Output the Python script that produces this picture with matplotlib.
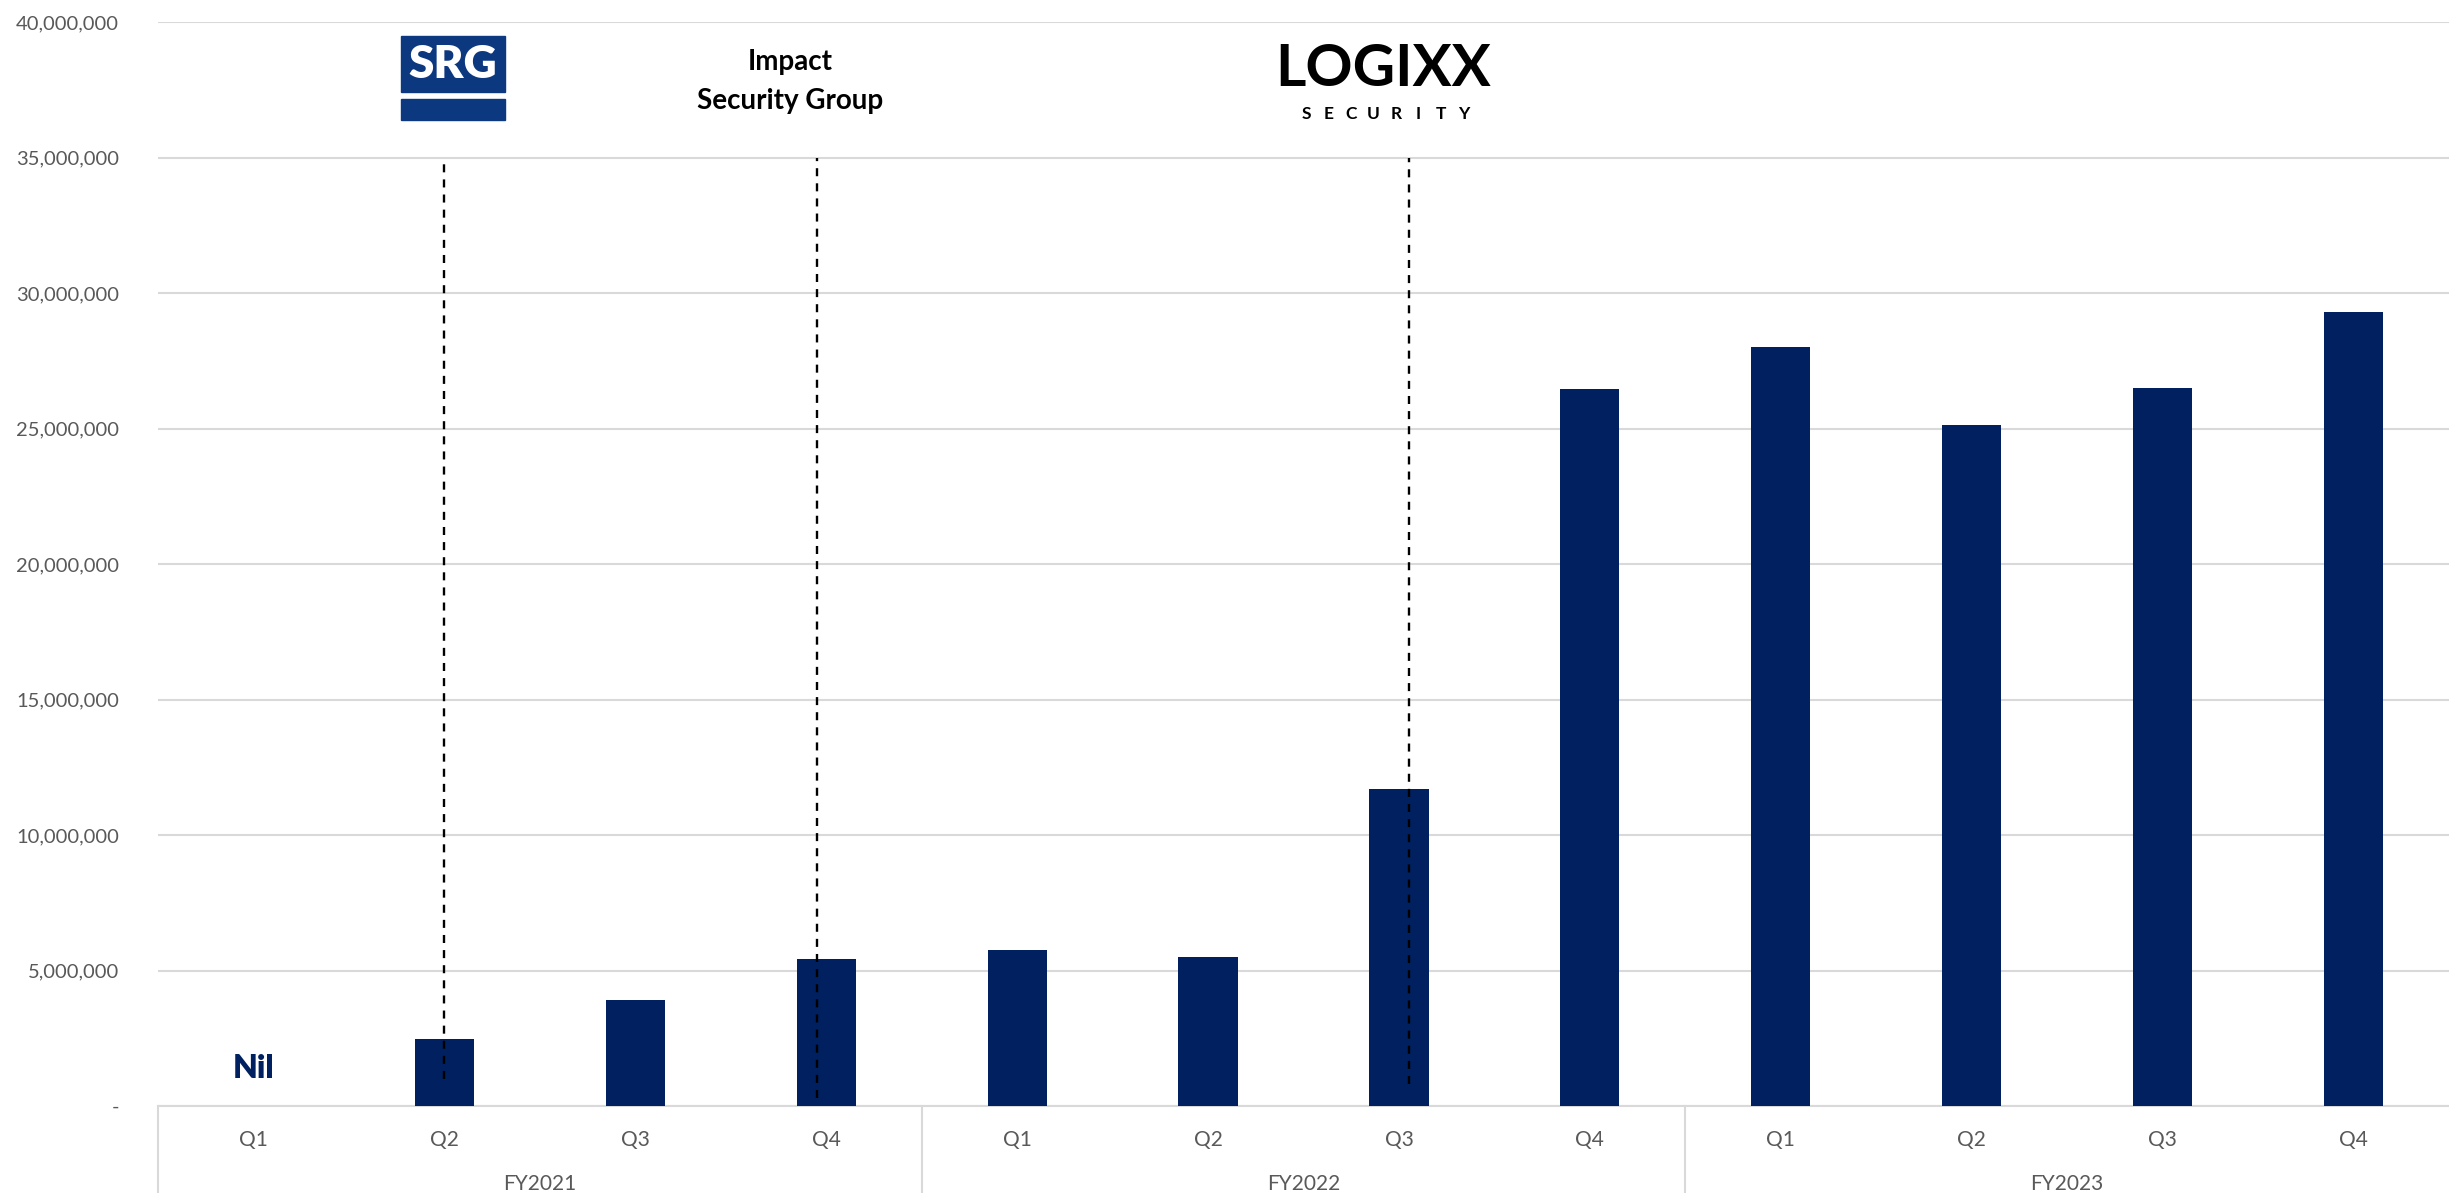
import matplotlib.pyplot as plt
from matplotlib.patches import Rectangle
from matplotlib.ticker import FuncFormatter
import numpy as np

plt.rcParams['font.family'] = ['Lato', 'DejaVu Sans']

years = ['FY2021', 'FY2022', 'FY2023']
quarters = ['Q1', 'Q2', 'Q3', 'Q4']
revenue = [0, 2480000, 3920000, 5420000,
           5760000, 5480000, 11700000, 26460000,
           28010000, 25130000, 26510000, 29290000]
# acquisition markers: (x position in category units, bottom of dashed line)
acq_x = [1, 2.95, 6.05]
acq_bottom = [1000000, 300000, 800000]

navy = '#002060'
grey = '#595959'

fig = plt.figure(figsize=(24.49, 11.93), dpi=100)
W, H = 2449, 1193
ax = fig.add_axes([158 / W, 1 - 1106 / H, 1 - 158 / W, (1106 - 22) / H])

x = np.arange(len(revenue))
ax.bar(x, revenue, width=0.31, color=navy, zorder=3)

for xi, yb in zip(acq_x, acq_bottom):
    ax.plot([xi, xi], [yb, 35000000], color='black', lw=1.7,
            dashes=(3.4, 3.0), zorder=4)

ax.text(0, 1400000, 'Nil', color=navy, fontsize=23, fontweight='heavy',
        ha='center', va='center')

ax.set_xlim(-0.5, len(revenue) - 0.5)
ax.set_ylim(0, 40000000)
ax.set_yticks(np.arange(0, 40000001, 5000000))
ax.yaxis.set_major_formatter(FuncFormatter(lambda v, p: '-' if v == 0 else f'{int(v):,}'))
ax.grid(axis='y', color='#d9d9d9', lw=1.5, zorder=0)
ax.set_axisbelow(True)
for s in ['top', 'right', 'left']:
    ax.spines[s].set_visible(False)
ax.spines['bottom'].set_color('#d9d9d9')
ax.spines['bottom'].set_linewidth(1.5)
ax.tick_params(axis='y', length=0, pad=28, labelsize=14.5, labelcolor=grey)
ax.set_xticks([])

# two-level category axis
ah = 1106 - 22
tr = ax.get_xaxis_transform()
for i, q in enumerate(quarters * len(years)):
    ax.text(i, -34 / ah, q, transform=tr, ha='center', va='center',
            fontsize=15, color=grey)
for j, fy in enumerate(years):
    ax.text(j * 4 + 1.5, -78 / ah, fy, transform=tr, ha='center', va='center',
            fontsize=15, color=grey)
for b in [-0.5, 3.5, 7.5]:
    ax.plot([b, b], [0, -90 / ah], transform=tr, color='#d9d9d9', lw=1.5,
            clip_on=False)

# logos / names above the chart
def fx(px):
    return px / W

def fy(py):
    return 1 - py / H

blue = '#0c3880'
fig.add_artist(Rectangle((fx(401), fy(92)), fx(505) - fx(401), fy(36) - fy(92),
                         transform=fig.transFigure, color=blue))
fig.add_artist(Rectangle((fx(401), fy(120)), fx(505) - fx(401), fy(99) - fy(120),
                         transform=fig.transFigure, color=blue))
fig.text(fx(453), fy(64), 'SRG', color='white', fontsize=33, fontweight='heavy',
         ha='center', va='center')

fig.text(fx(790), fy(62), 'Impact', fontsize=20, fontweight='bold',
         ha='center', va='center')
fig.text(fx(790), fy(101), 'Security Group', fontsize=20, fontweight='bold',
         ha='center', va='center')

fig.text(fx(1383), fy(69), 'LOGIXX', fontsize=42, fontweight='bold',
         ha='center', va='center')
for k, ch in enumerate('SECURITY'):
    fig.text(fx(1306 + k * 22.5), fy(114), ch, fontsize=12.5, fontweight='bold',
             ha='center', va='center')

fig.savefig('out.png', dpi=100)
